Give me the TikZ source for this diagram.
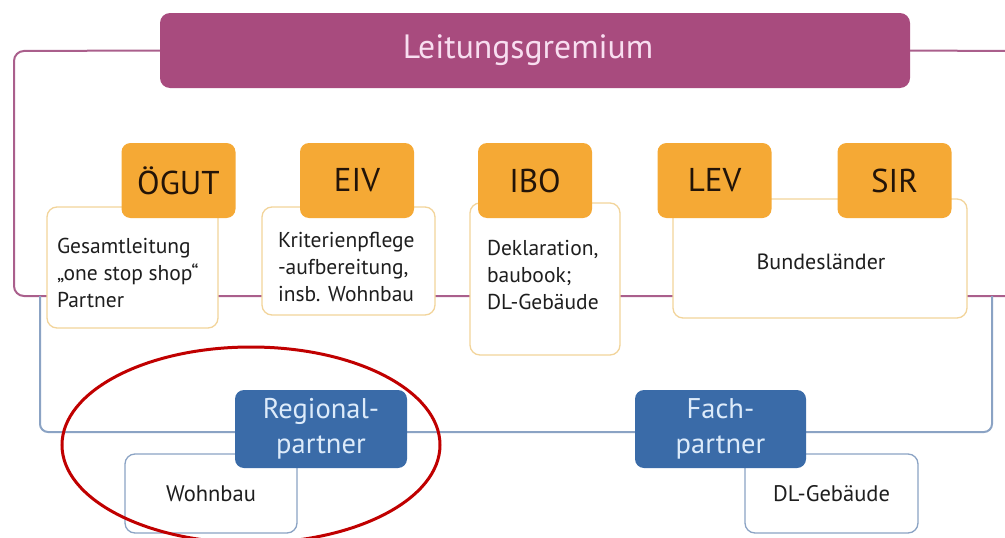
\documentclass[tikz,border=0pt]{standalone}
\usepackage{fontspec}
\setmainfont{PT Sans}
\definecolor{magFill}{RGB}{168,75,126}
\definecolor{magText}{RGB}{248,222,240}
\definecolor{purLine}{RGB}{170,95,140}
\definecolor{orgFill}{RGB}{245,169,53}
\definecolor{orgText}{RGB}{35,20,8}
\definecolor{orgLine}{RGB}{242,212,154}
\definecolor{bluFill}{RGB}{58,107,168}
\definecolor{bluText}{RGB}{221,235,250}
\definecolor{bluLine}{RGB}{139,163,196}
\definecolor{txt}{RGB}{30,30,30}
\definecolor{ringRed}{RGB}{192,0,0}
\begin{document}
\begin{tikzpicture}[x=1pt,y=-1pt,
  every node/.style={inner sep=0pt, outer sep=0pt},
  head/.style={fill=magFill, rounded corners=10pt, minimum width=750pt, minimum height=75pt},
  org/.style={fill=orgFill, rounded corners=9pt, minimum width=114pt, minimum height=75pt, text=orgText, font=\fontsize{33}{36}\selectfont},
  wbox/.style={draw=orgLine, line width=1.3pt, fill=white, rounded corners=10pt},
  bbox/.style={draw=bluLine, line width=1.3pt, fill=white, rounded corners=10pt, text=txt, font=\fontsize{22.5}{27}\selectfont},
  blu/.style={fill=bluFill, rounded corners=9pt, minimum width=172pt, minimum height=78pt, text=bluText, align=center, font=\fontsize{28.5}{35}\selectfont},
  small/.style={text=txt, align=left, font=\fontsize{21.5}{27}\selectfont, anchor=west},
  pline/.style={draw=purLine, line width=2pt, rounded corners=10pt},
  bline/.style={draw=bluLine, line width=2pt, rounded corners=8pt},
  ring/.style={draw=ringRed, line width=3pt},
]
\useasboundingbox (0,0) rectangle (1005,538);

% head
\node[head] (L) at (535,50.5) {};
\node[text=magText, font=\fontsize{33.7}{38}\selectfont] (Ltxt) at (528,50) {Leitungsgremium};

% connector coordinates
\coordinate (pTL) at (14,51);
\coordinate (pBL) at (14,296);
\coordinate (pBR) at (1005,296);
\coordinate (pTR) at (1005,51);
\coordinate (bTL) at (40,296);
\coordinate (bBL) at (40,432);
\coordinate (bBR) at (992,432);
\coordinate (bTR) at (992,296);

\draw[pline] (L.west) -- (pTL) -- (pBL) -- (pBR);
\draw[pline] (L.east) -- (pTR);
\draw[bline] (bTL) -- (bBL) -- (bBR) -- (bTR);

% white boxes
\node[wbox, minimum width=171pt, minimum height=121pt] (oegutB) at (132.5,267.5) {};
\node[wbox, minimum width=173pt, minimum height=108pt] (eivB) at (348.5,261) {};
\node[wbox, minimum width=150pt, minimum height=152pt] (iboB) at (545,279) {};
\node[wbox, minimum width=294pt, minimum height=119pt] (bundB) at (820,258.5) {};

\node[small] (oegutT) at (57,273) {Gesamtleitung\\„one stop shop“\\Partner};
\node[small] (eivT) at (278,267) {Kriterienpflege\\-aufbereitung,\\insb. Wohnbau};
\node[small] (iboT) at (487,275) {Deklaration,\\baubook;\\DL-Gebäude};
\node[small, anchor=center, font=\fontsize{22}{27}\selectfont] (bundT) at (821,262) {Bundesländer};

% orange boxes
\node[org] (oegut) at (178.5,180.5) {ÖGUT};
\node[org] (eiv) at (357,180.5) {EIV};
\node[org] (ibo) at (535,180.5) {IBO};
\node[org] (lev) at (714.5,180.5) {LEV};
\node[org] (sir) at (894.5,180.5) {SIR};

% lower boxes
\node[bbox, minimum width=172pt, minimum height=79pt] (wohn) at (211,493.5) {\raisebox{-5pt}{Wohnbau}};
\node[bbox, minimum width=173pt, minimum height=79pt] (dl) at (831.5,493.5) {\raisebox{-5pt}{DL-Gebäude}};
\node[blu] (reg) at (321,429) {Regional-\\partner};
\node[blu, minimum width=171pt] (fach) at (720.5,429) {Fach-\\partner};

% red ring
\draw[ring] (251,445) ellipse [x radius=189pt, y radius=98pt];
\end{tikzpicture}
\end{document}
